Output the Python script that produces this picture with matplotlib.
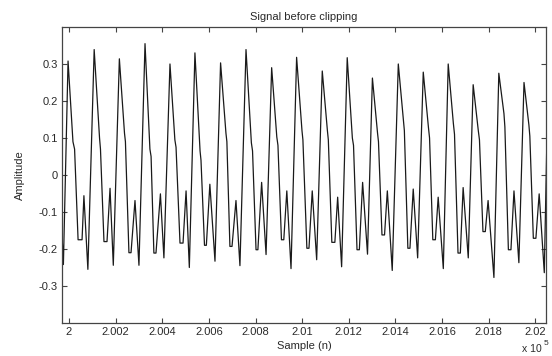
import matplotlib
matplotlib.use("Agg")
import matplotlib.pyplot as plt

plt.rcParams['font.family'] = ['Liberation Sans', 'DejaVu Sans']

# Signal vertices: sample index and amplitude
sample_n = [
    199970, 199976,
    199996, 200017, 200024, 200039, 200056, 200064, 200081,
    200108, 200131, 200135, 200150, 200163, 200176, 200190,
    200216, 200238, 200242, 200257, 200266, 200283, 200300,
    200326, 200347, 200352, 200364, 200373, 200392, 200407,
    200433, 200454, 200459, 200476, 200489, 200502, 200516,
    200540, 200562, 200566, 200581, 200589, 200604, 200626,
    200650, 200673, 200677, 200690, 200699, 200716, 200733,
    200759, 200782, 200787, 200802, 200810, 200826, 200845,
    200869, 200891, 200896, 200911, 200921, 200934, 200952,
    200976, 200999, 201003, 201020, 201029, 201043, 201062,
    201086, 201108, 201112, 201127, 201140, 201152, 201169,
    201193, 201215, 201220, 201235, 201245, 201259, 201280,
    201301, 201323, 201327, 201342, 201353, 201365, 201386,
    201412, 201434, 201438, 201453, 201462, 201476, 201495,
    201519, 201541, 201546, 201560, 201571, 201583, 201605,
    201626, 201648, 201653, 201668, 201678, 201690, 201712,
    201733, 201755, 201760, 201775, 201785, 201797, 201822,
    201843, 201865, 201869, 201884, 201895, 201908, 201929,
    201951, 201972, 201976, 201991, 202002, 202016, 202038,
    202048,
]
amplitude = [
    -0.16, -0.242,
    0.308, 0.09, 0.07, -0.175, -0.175, -0.056, -0.255,
    0.339, 0.10, 0.07, -0.18, -0.18, -0.036, -0.244,
    0.314, 0.113, 0.09, -0.21, -0.21, -0.069, -0.244,
    0.355, 0.07, 0.05, -0.211, -0.211, -0.051, -0.224,
    0.300, 0.095, 0.075, -0.184, -0.184, -0.043, -0.25,
    0.330, 0.065, 0.04, -0.19, -0.19, -0.025, -0.233,
    0.303, 0.113, 0.09, -0.193, -0.193, -0.069, -0.245,
    0.339, 0.087, 0.065, -0.202, -0.202, -0.02, -0.215,
    0.290, 0.103, 0.08, -0.175, -0.175, -0.043, -0.253,
    0.318, 0.12, 0.095, -0.198, -0.198, -0.043, -0.229,
    0.281, 0.12, 0.095, -0.182, -0.182, -0.06, -0.248,
    0.317, 0.10, 0.08, -0.202, -0.202, -0.02, -0.214,
    0.262, 0.113, 0.09, -0.162, -0.162, -0.043, -0.258,
    0.300, 0.15, 0.12, -0.198, -0.198, -0.038, -0.224,
    0.278, 0.13, 0.10, -0.175, -0.175, -0.06, -0.253,
    0.300, 0.14, 0.11, -0.211, -0.211, -0.034, -0.224,
    0.244, 0.12, 0.095, -0.153, -0.153, -0.069, -0.277,
    0.275, 0.166, 0.13, -0.202, -0.202, -0.043, -0.237,
    0.250, 0.135, 0.105, -0.171, -0.171, -0.051, -0.264,
    0.06,
]

x_ticks = [200000, 200200, 200400, 200600, 200800, 201000,
           201200, 201400, 201600, 201800, 202000]
x_tick_labels = ['2', '2.002', '2.004', '2.006', '2.008', '2.01',
                 '2.012', '2.014', '2.016', '2.018', '2.02']
y_ticks = [-0.3, -0.2, -0.1, 0, 0.1, 0.2, 0.3]
y_tick_labels = ['-0.3', '-0.2', '-0.1', '0', '0.1', '0.2', '0.3']

txt = '#2a2a2a'
fig = plt.figure(figsize=(5.52, 3.56), dpi=100)
ax = fig.add_axes([0.1123, 0.0927, 0.8767, 0.8315])
ax.plot(sample_n, amplitude, color='#1a1a1a', lw=0.9)
ax.set_xlim(199970, 202045)
ax.set_ylim(-0.4, 0.4)
ax.set_xticks(x_ticks)
ax.set_xticklabels(x_tick_labels)
ax.set_yticks(y_ticks)
ax.set_yticklabels(y_tick_labels)
ax.tick_params(direction='in', length=3.5, width=0.8, colors='#444444',
               labelcolor=txt, labelsize=8, top=True, right=True, pad=3)
for s in ax.spines.values():
    s.set_color('#444444')
    s.set_linewidth(0.9)
ax.set_title('Signal before clipping', fontsize=8, color=txt, pad=5)
ax.set_xlabel('Sample (n)', fontsize=8, color=txt, labelpad=3)
ax.set_ylabel('Amplitude', fontsize=8, color=txt, labelpad=10)
fig.text(0.945, 0.005, 'x 10', fontsize=7.5, color=txt, ha='left', va='bottom')
fig.text(0.985, 0.025, '5', fontsize=6, color=txt, ha='left', va='bottom')
fig.savefig('out.png', dpi=100)
